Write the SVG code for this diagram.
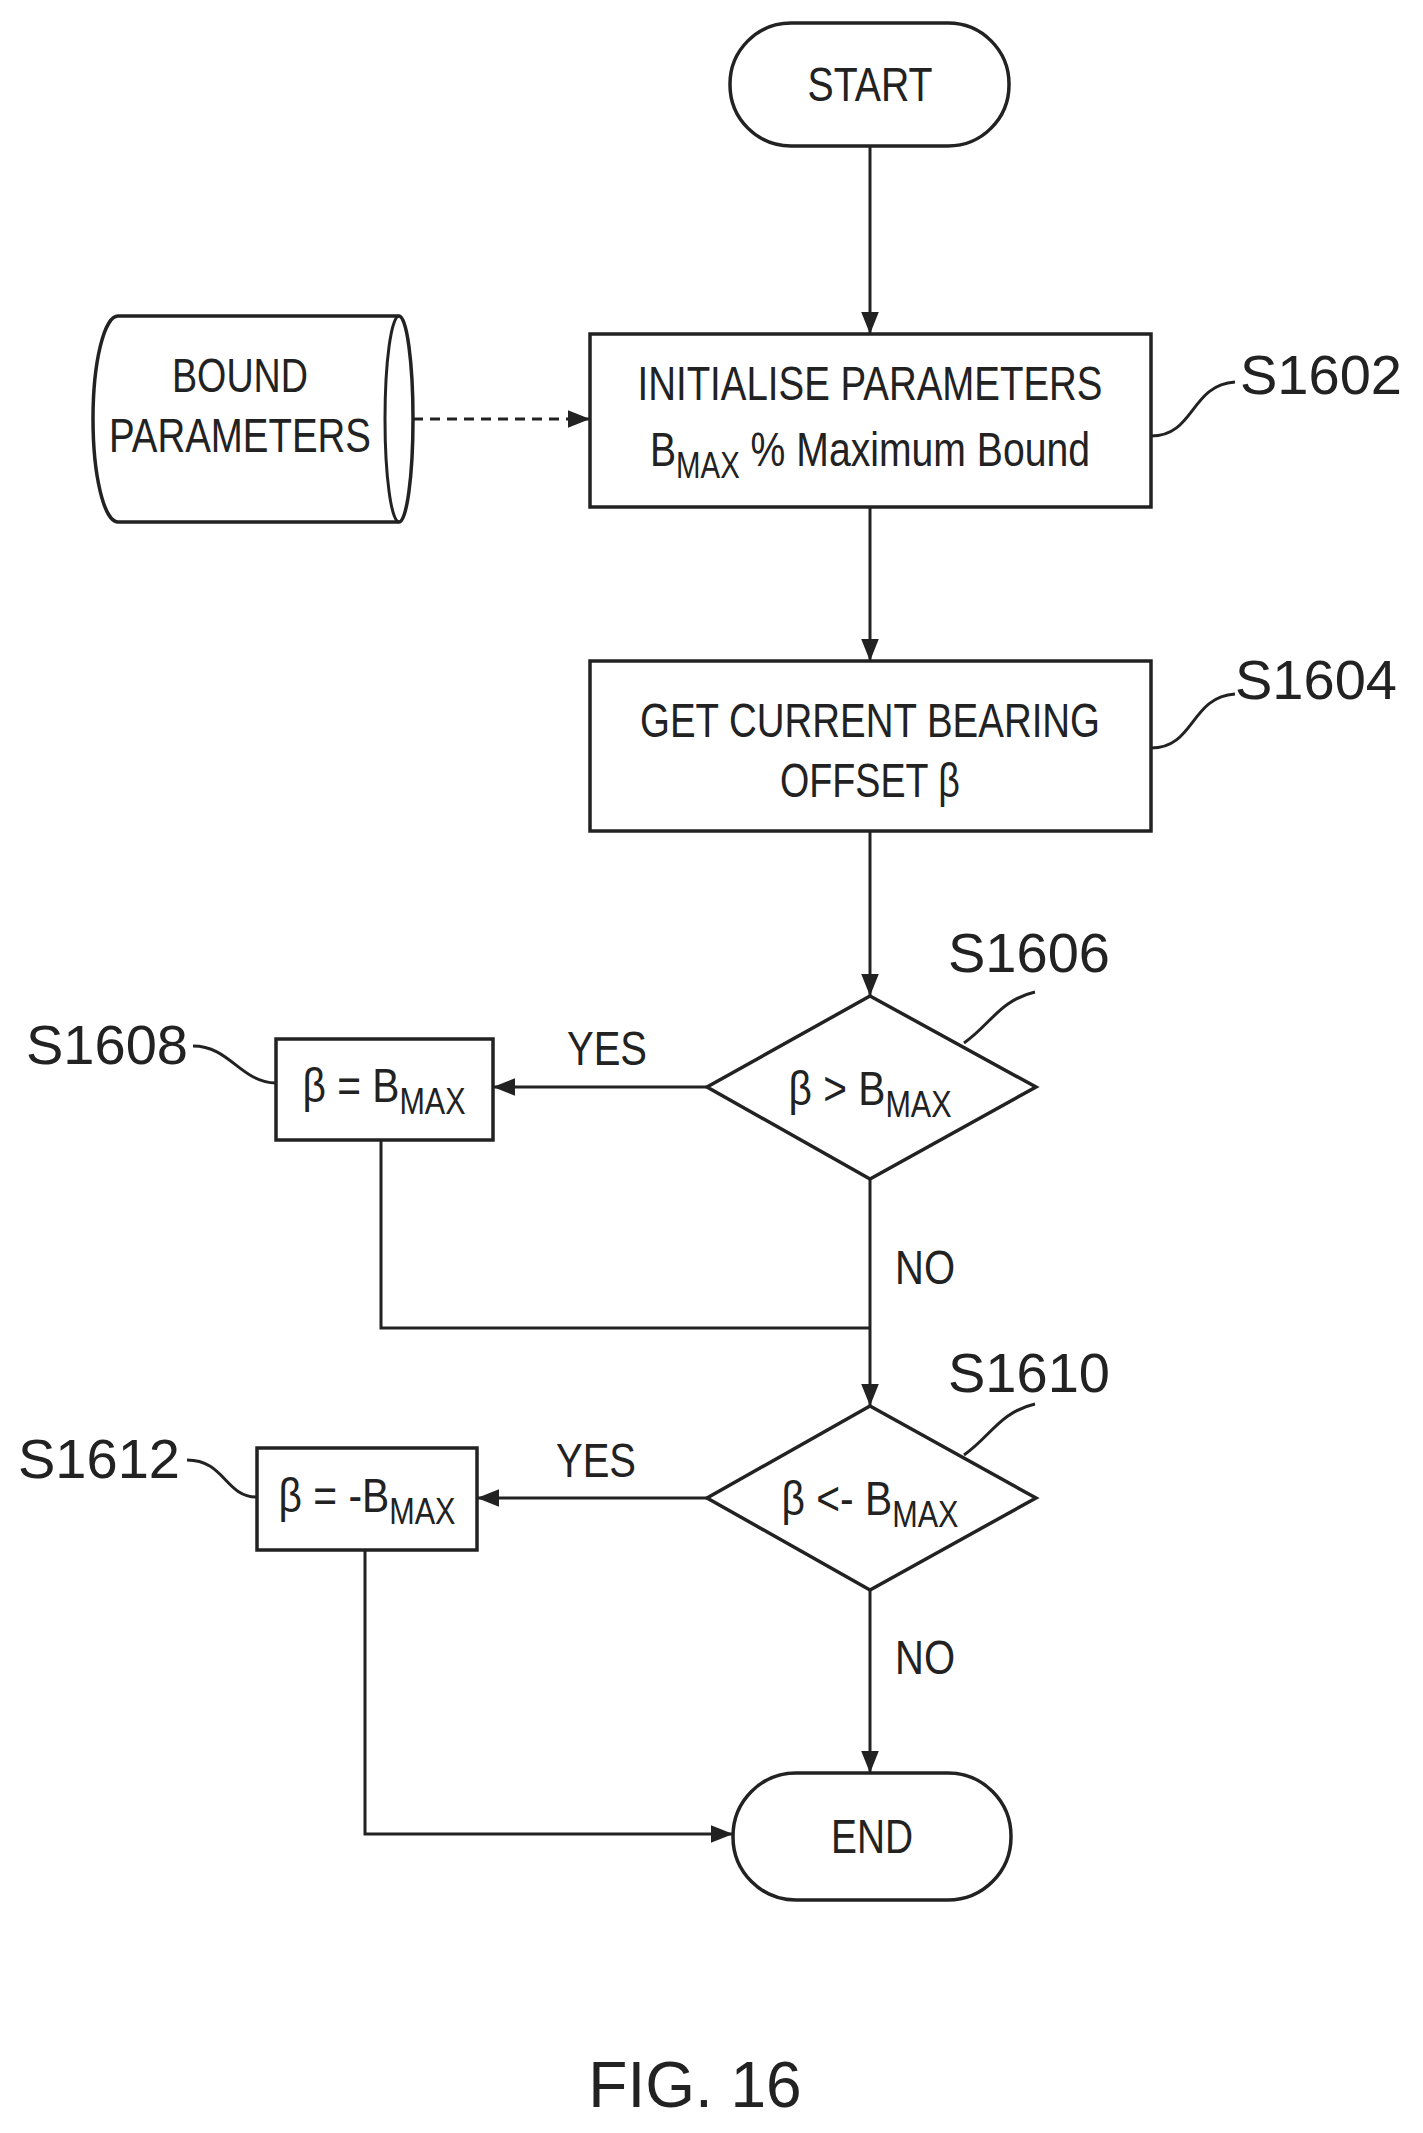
<svg xmlns="http://www.w3.org/2000/svg" width="1423" height="2133" viewBox="0 0 1423 2133">
<style>
.s{fill:#fff;stroke:#222;stroke-width:3.5}
.l{fill:none;stroke:#222;stroke-width:3}
.t{font-family:"Liberation Sans",Arial,sans-serif;font-size:48px;fill:#222;text-anchor:middle}
.b{font-family:"Liberation Sans",Arial,sans-serif;font-size:56px;fill:#222}
.sub{font-size:36px}
</style>
<defs><marker id="a" viewBox="0 0 10 10" refX="10" refY="5" markerWidth="22" markerHeight="22" markerUnits="userSpaceOnUse" orient="auto"><path d="M0,1 L10,5 L0,9 z" fill="#222"/></marker></defs>
<g id="connectors">
<line class="l" x1="870" y1="146" x2="870" y2="334" marker-end="url(#a)"/>
<line class="l" x1="413" y1="419" x2="590" y2="419" stroke-dasharray="10,7" marker-end="url(#a)"/>
<line class="l" x1="870" y1="507" x2="870" y2="661" marker-end="url(#a)"/>
<line class="l" x1="870" y1="831" x2="870" y2="996" marker-end="url(#a)"/>
<line class="l" x1="707" y1="1087" x2="493" y2="1087" marker-end="url(#a)"/>
<polyline class="l" points="381,1140 381,1328 870,1328"/>
<line class="l" x1="870" y1="1179" x2="870" y2="1406" marker-end="url(#a)"/>
<line class="l" x1="707" y1="1498" x2="477" y2="1498" marker-end="url(#a)"/>
<line class="l" x1="870" y1="1590" x2="870" y2="1773" marker-end="url(#a)"/>
<polyline class="l" points="365,1550 365,1834 733,1834" marker-end="url(#a)"/>
<path class="l" d="M1151,436 C1195,436 1190,385 1235,382"/>
<path class="l" d="M1151,748 C1195,748 1190,697 1235,694"/>
<path class="l" d="M964,1043 C990,1025 1000,1000 1035,992"/>
<path class="l" d="M964,1455 C990,1437 1000,1412 1035,1404"/>
<path class="l" d="M193,1046 C230,1046 240,1082 276,1083"/>
<path class="l" d="M187,1460 C225,1460 225,1497 257,1497"/>
<text class="t" x="607" y="1065" textLength="80" lengthAdjust="spacingAndGlyphs">YES</text>
<text class="t" x="596" y="1477" textLength="80" lengthAdjust="spacingAndGlyphs">YES</text>
<text class="t" x="925" y="1284" textLength="60" lengthAdjust="spacingAndGlyphs">NO</text>
<text class="t" x="925" y="1674" textLength="60" lengthAdjust="spacingAndGlyphs">NO</text>
</g>
<g id="start"><rect class="s" x="730" y="23" width="279" height="123" rx="61"/><text class="t" x="870" y="101" textLength="125" lengthAdjust="spacingAndGlyphs">START</text></g>
<g id="bound"><path class="s" d="M118,316 H399 A14,103 0 0 1 399,522 H118 A25,103 0 0 1 118,316 Z"/><path class="l" d="M399,316 A14,103 0 0 0 399,522"/>
<text class="t" x="240" y="392" textLength="136" lengthAdjust="spacingAndGlyphs">BOUND</text><text class="t" x="240" y="452" textLength="262" lengthAdjust="spacingAndGlyphs">PARAMETERS</text></g>
<g id="s1602"><rect class="s" x="590" y="334" width="561" height="173"/>
<text class="t" x="870" y="400" textLength="465" lengthAdjust="spacingAndGlyphs">INITIALISE PARAMETERS</text>
<text class="t" x="870" y="466" textLength="440" lengthAdjust="spacingAndGlyphs">B<tspan class="sub" dy="12">MAX</tspan><tspan dy="-12"> % Maximum Bound</tspan></text>
<text class="b" x="1240" y="394">S1602</text></g>
<g id="s1604"><rect class="s" x="590" y="661" width="561" height="170"/>
<text class="t" x="870" y="737" textLength="460" lengthAdjust="spacingAndGlyphs">GET CURRENT BEARING</text>
<text class="t" x="870" y="797" textLength="180" lengthAdjust="spacingAndGlyphs">OFFSET β</text>
<text class="b" x="1235" y="699">S1604</text></g>
<g id="s1606"><polygon class="s" points="870,996 1036,1087 870,1179 707,1087"/>
<text class="t" x="870" y="1105" textLength="163" lengthAdjust="spacingAndGlyphs">β &gt; B<tspan class="sub" dy="12">MAX</tspan></text>
<text class="b" x="948" y="972">S1606</text></g>
<g id="s1608"><rect class="s" x="276" y="1039" width="217" height="101"/>
<text class="t" x="384" y="1102" textLength="163" lengthAdjust="spacingAndGlyphs">β = B<tspan class="sub" dy="12">MAX</tspan></text>
<text class="b" x="26" y="1064">S1608</text></g>
<g id="s1610"><polygon class="s" points="870,1406 1036,1498 870,1590 707,1498"/>
<text class="t" x="870" y="1515" textLength="177" lengthAdjust="spacingAndGlyphs">β &lt;- B<tspan class="sub" dy="12">MAX</tspan></text>
<text class="b" x="948" y="1392">S1610</text></g>
<g id="s1612"><rect class="s" x="257" y="1448" width="220" height="102"/>
<text class="t" x="367" y="1512" textLength="177" lengthAdjust="spacingAndGlyphs">β = -B<tspan class="sub" dy="12">MAX</tspan></text>
<text class="b" x="18" y="1478">S1612</text></g>
<g id="end"><rect class="s" x="733" y="1773" width="278" height="127" rx="63"/><text class="t" x="872" y="1853" textLength="82" lengthAdjust="spacingAndGlyphs">END</text></g>
<text x="695" y="2107" style="font-family:'Liberation Sans',Arial,sans-serif;font-size:64px;fill:#222;text-anchor:middle">FIG. 16</text>
</svg>
